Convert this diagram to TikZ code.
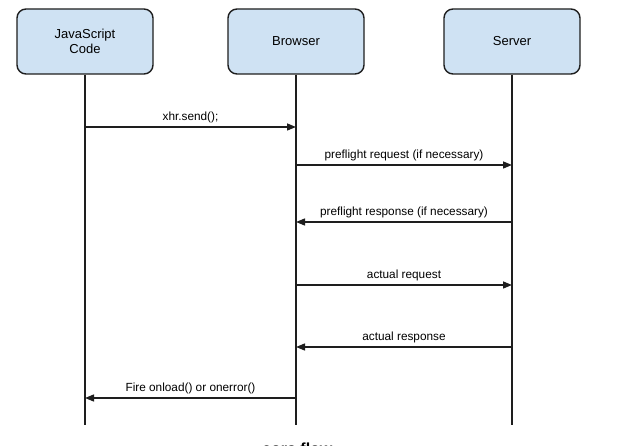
\documentclass[tikz,border=0pt]{standalone}
\usepackage{fontspec}
\setmainfont{Liberation Sans}
\usetikzlibrary{arrows.meta}
\definecolor{boxblue}{RGB}{207,226,243}
\definecolor{edge}{RGB}{30,30,30}
\begin{document}
\begin{tikzpicture}[x=1pt,y=-1pt,
  actor/.style={draw=edge,line width=1.4pt,fill=boxblue,rounded corners=9pt,
    minimum width=136pt,minimum height=65pt,align=center,inner sep=0pt,
    font=\fontsize{13}{15.5}\selectfont},
  life/.style={draw=edge,line width=1.6pt},
  msg/.style={draw=edge,line width=1.4pt,-{Triangle[length=9pt,width=7pt]}},
  lbl/.style={font=\fontsize{11.8}{14}\selectfont,text height=8.5pt,text depth=2.5pt,
    inner sep=2pt,yshift=1.5pt},
  caption/.style={font=\bfseries\fontsize{16}{18}\selectfont,inner sep=0pt}]
\clip (0,0) rectangle (624,446);
\fill[white] (0,0) rectangle (624,446);
\node[actor] (js) at (85,41.5) {JavaScript\\Code};
\node[actor] (br) at (296,41.5) {Browser};
\node[actor] (sv) at (512,41.5) {Server};
\coordinate (jsE) at (85,425);
\coordinate (brE) at (296,425);
\coordinate (svE) at (512,425);
\draw[life] (js.south) -- (jsE);
\draw[life] (br.south) -- (brE);
\draw[life] (sv.south) -- (svE);
\draw[msg] (js |- 0,127) -- node[lbl,above]{xhr.send();} (br |- 0,127);
\draw[msg] (br |- 0,165) -- node[lbl,above]{preflight request (if necessary)} (sv |- 0,165);
\draw[msg] (sv |- 0,222) -- node[lbl,above]{preflight response (if necessary)} (br |- 0,222);
\draw[msg] (br |- 0,285) -- node[lbl,above]{actual request} (sv |- 0,285);
\draw[msg] (sv |- 0,347) -- node[lbl,above]{actual response} (br |- 0,347);
\draw[msg] (br |- 0,398) -- node[lbl,above]{Fire onload() or onerror()} (js |- 0,398);
\node[caption,anchor=base west] (cap) at (262,454) {cors flow};
\end{tikzpicture}
\end{document}
